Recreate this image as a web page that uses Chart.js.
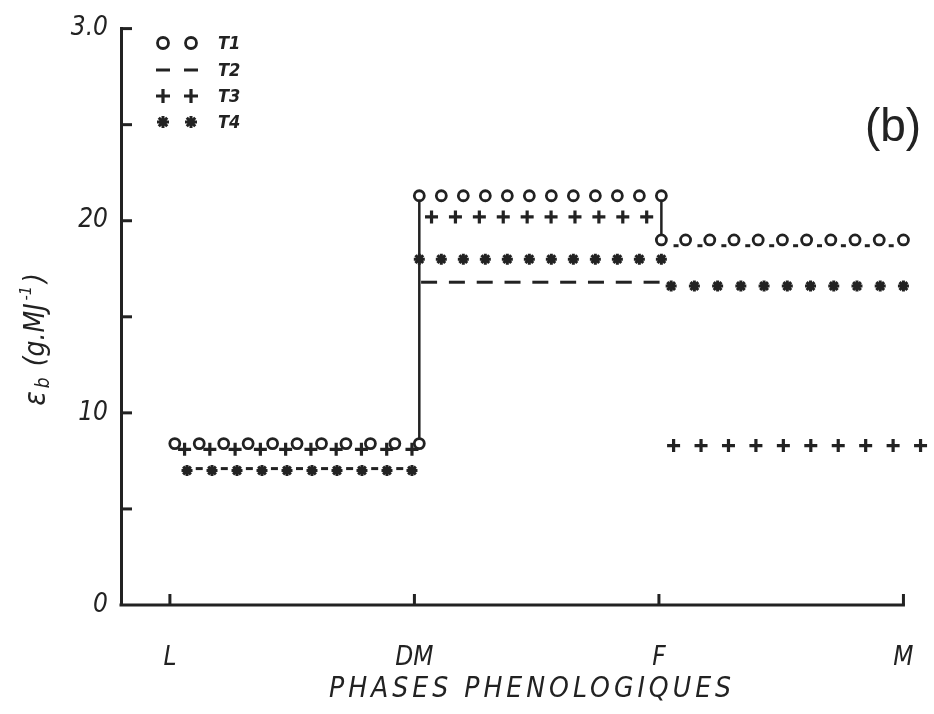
<!DOCTYPE html>
<html>
<head>
<meta charset="utf-8">
<script src="https://cdn.jsdelivr.net/npm/chart.js@4"></script>
<style>
  html, body { margin: 0; background: #fff; }
  #wrap { width: 934px; height: 714px; }
</style>
</head>
<body>
<div id="wrap"><canvas id="effChart"></canvas></div>
<script>
// phases phénologiques et efficience εb (g.MJ-1) par palier, pour chaque traitement
const phases = ['L', 'DM', 'F', 'M'];
const yLabels = { 0: '0', 10: '10', 20: '20', 30: '3.0' };
const T1 = [8.4, 21.3, 19.0];
const T2 = [7.1, 16.8, 18.7];
const T3 = [8.1, 20.2, 8.3];
const T4 = [7.0, 18.0, 16.6];

// répartition des symboles sur chaque palier : [nombre, début, fin] en unités d'axe
const marks = {
  T1: [[11, 0.02, 1.02], [12, 1.02, 2.01], [11, 2.01, 3.0]],
  T2: [[9, 0.12, 0.94], [9, 1.06, 1.97], [10, 2.07, 2.95]],
  T3: [[10, 0.06, 0.99], [10, 1.07, 1.95], [10, 2.06, 3.07]],
  T4: [[10, 0.07, 0.99], [12, 1.02, 2.01], [11, 2.05, 3.0]]
};
const dashLen = [3.5, 8, 2.5];   // longueur des tirets T2 selon le palier
const stepX = [1.02, 2.01];      // traits verticaux de T1

const ink = '#222';
const fam = "'DejaVu Sans Condensed', 'DejaVu Sans', sans-serif";

function palier(values, layout) {
  const pts = [];
  layout.forEach(([n, a, b], p) => {
    for (let i = 0; i < n; i++) {
      pts.push({ x: a + (b - a) * i / (n - 1), y: values[p], p: p });
    }
  });
  return pts;
}

const steps = [
  { x: stepX[0], y: T1[0] }, { x: stepX[0], y: T1[1] },
  { x: 1.5, y: null },
  { x: stepX[1], y: T1[1] }, { x: stepX[1], y: T1[2] }
];

const styles = {
  T1: { pointStyle: 'circle', radius: 5, borderWidth: 2.8 },
  T2: { pointStyle: 'line', radius: 6.5, borderWidth: 3 },
  T3: { pointStyle: 'cross', radius: 6.5, borderWidth: 3.2 },
  T4: { pointStyle: 'star', radius: 5.5, borderWidth: 3 }
};

function serie(label, values) {
  const s = styles[label];
  return {
    label: label,
    data: palier(values, marks[label]),
    showLine: false,
    clip: false,
    pointStyle: s.pointStyle,
    pointRadius: label === 'T2' ? (c => dashLen[c.raw ? c.raw.p : 0]) : s.radius,
    pointBorderWidth: s.borderWidth,
    pointBackgroundColor: '#fff',
    pointBorderColor: ink
  };
}

// axe des x, graduations intérieures, légende et titres
const decor = {
  id: 'decor',
  afterDraw(chart) {
    const { ctx, scales: { x, y } } = chart;
    const xEnd = x.getPixelForValue(phases.length - 1);
    ctx.save();
    ctx.strokeStyle = ink;
    ctx.lineWidth = 3;
    ctx.beginPath(); ctx.moveTo(x.left - 1.5, y.bottom); ctx.lineTo(xEnd + 1.5, y.bottom); ctx.stroke();
    y.ticks.forEach(t => {
      if (t.value === 0) return;
      const py = y.getPixelForValue(t.value);
      ctx.beginPath(); ctx.moveTo(x.left, py); ctx.lineTo(x.left + 11, py); ctx.stroke();
    });
    x.ticks.forEach(t => {
      const px = x.getPixelForValue(t.value);
      ctx.beginPath(); ctx.moveTo(px, y.bottom); ctx.lineTo(px, y.bottom - 11); ctx.stroke();
    });

    // légende
    const rows = [43, 70, 96, 122];
    ['T1', 'T2', 'T3', 'T4'].forEach((k, i) => {
      const s = styles[k];
      ctx.fillStyle = '#fff';
      ctx.strokeStyle = ink;
      ctx.lineWidth = s.borderWidth;
      [163, 191].forEach(mx => {
        Chart.helpers.drawPoint(ctx, { pointStyle: s.pointStyle, radius: s.radius + 0.5, borderWidth: s.borderWidth, rotation: 0 }, mx, rows[i]);
      });
      ctx.fillStyle = ink;
      ctx.font = 'italic bold 18px ' + fam;
      ctx.textAlign = 'left';
      ctx.textBaseline = 'middle';
      ctx.fillText(k, 218, rows[i] + 1);
    });

    // titre de l'axe des x
    ctx.fillStyle = ink;
    ctx.font = 'italic 28px ' + fam;
    ctx.letterSpacing = '4px';
    ctx.textAlign = 'center';
    ctx.textBaseline = 'middle';
    ctx.fillText('PHASES PHENOLOGIQUES', 532, 690);
    ctx.letterSpacing = '0px';

    // titre de l'axe des y : εb (g.MJ-1)
    const parts = [['ε', 30, 0], ['b', 19, 7], [' (g.MJ', 28, 0], ['-1', 16, -10], [')', 28, 0]];
    ctx.save();
    ctx.translate(37, 338);
    ctx.rotate(-Math.PI / 2);
    ctx.textAlign = 'left';
    let w = 0;
    parts.forEach(([t, sz]) => { ctx.font = 'italic ' + sz + 'px ' + fam; w += ctx.measureText(t).width + 3; });
    let cx = -w / 2;
    parts.forEach(([t, sz, dy]) => {
      ctx.font = 'italic ' + sz + 'px ' + fam;
      ctx.fillText(t, cx, dy);
      cx += ctx.measureText(t).width + 3;
    });
    ctx.restore();

    // repère du panneau
    ctx.font = '46px "Liberation Sans", sans-serif';
    ctx.textAlign = 'center';
    ctx.fillText('(b)', 893, 128);
    ctx.restore();
  }
};

new Chart(document.getElementById('effChart'), {
  type: 'scatter',
  data: {
    datasets: [
      serie('T1', T1),
      serie('T2', T2),
      serie('T3', T3),
      serie('T4', T4),
      {
        type: 'line',
        label: 'T1 paliers',
        data: steps,
        showLine: true,
        spanGaps: false,
        borderColor: ink,
        borderWidth: 2.5,
        pointRadius: 0,
        clip: false
      }
    ]
  },
  options: {
    responsive: true,
    maintainAspectRatio: false,
    animation: false,
    events: [],
    layout: { padding: { top: 27, right: 9, bottom: 0, left: 0 } },
    plugins: { legend: { display: false }, tooltip: { enabled: false } },
    scales: {
      x: {
        type: 'linear',
        min: -0.2,
        max: 3.08,
        afterBuildTicks: s => { s.ticks = phases.map((_, i) => ({ value: i })); },
        afterFit: s => { s.height = 109; s.paddingLeft = 0; s.paddingRight = 0; },
        grid: { display: false, drawTicks: false },
        border: { display: false },
        ticks: {
          callback: v => phases[v],
          color: ink,
          font: { family: fam, size: 26, style: 'italic' },
          padding: 38,
          maxRotation: 0,
          autoSkip: false
        }
      },
      y: {
        min: 0,
        max: 30,
        afterFit: s => { s.width = 121; },
        grid: { display: false, drawTicks: false },
        border: { display: true, color: ink, width: 3 },
        ticks: {
          stepSize: 5,
          callback: v => (v in yLabels ? yLabels[v] : ''),
          color: ink,
          font: { family: fam, size: 26, style: 'italic' },
          padding: 13
        }
      }
    }
  },
  plugins: [decor]
});
</script>
</body>
</html>
